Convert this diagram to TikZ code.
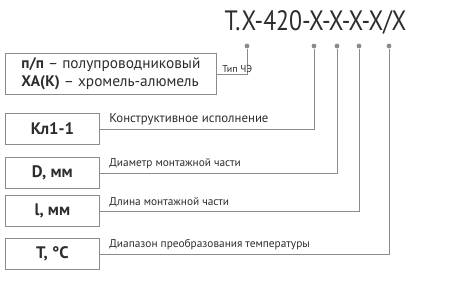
\documentclass[tikz,border=0pt]{standalone}
\usepackage{fontspec}
\setmainfont{PT Sans}
\newfontfamily\codefont[FakeStretch=0.85]{PT Sans}
\usepackage{tikz}
\usetikzlibrary{positioning}
\definecolor{grisLigne}{RGB}{140,140,140}
\definecolor{grisTexte}{RGB}{45,45,45}

\begin{document}
\begin{tikzpicture}[x=0.75pt,y=-0.75pt,
  boite/.style={rectangle,draw=grisLigne,line width=0.6pt,minimum height=23.5pt,
                inner xsep=12pt,text=grisTexte,align=left,anchor=north west},
  point/.style={circle,fill=grisLigne,inner sep=0pt,minimum size=3.6pt},
  lien/.style={draw=grisLigne,line width=0.6pt},
  legende/.style={font=\fontsize{8.5}{10}\selectfont,text=grisTexte,inner sep=1pt}]

  \useasboundingbox (0,0) rectangle (450,290);

  % code
  \node[font=\codefont\fontsize{21}{24}\selectfont,text=grisTexte] (code) at (315.5,22) {Т.Х-420-Х-Х-Х-Х/Х};

  \node[point] (p1) at (247,46) {};
  \node[point] (p2) at (314,46) {};
  \node[point] (p3) at (337,46) {};
  \node[point] (p4) at (359,46) {};
  \node[point] (p5) at (389,46) {};

  % boites
  \node[boite,minimum width=148.5pt,minimum height=26pt,font=\fontsize{11.5}{13.5}\selectfont]
    (type) at (5,53) {\textbf{п/п} – полупроводниковый\\\textbf{ХА(К)} – хромель-алюмель};
  \node[boite,minimum width=70.5pt,font=\fontsize{12.5}{14}\bfseries] (konstr) at (5,113) {Кл1-1};
  \node[boite,minimum width=70.5pt,font=\fontsize{12.5}{14}\bfseries] (diam)   at (5,157) {D, мм};
  \node[boite,minimum width=70.5pt,font=\fontsize{12.5}{14}\bfseries] (dlina)  at (5,195) {l, мм};
  \node[boite,minimum width=70.5pt,font=\fontsize{12.5}{14}\bfseries] (temp)   at (5,238) {T, °C};

  % liens
  \draw[lien] (type.east)   -| (p1);
  \draw[lien] (konstr.east) -| (p2);
  \draw[lien] (diam.east)   -| (p3);
  \draw[lien] (dlina.east)  -| (p4);
  \draw[lien] (temp.east)   -| (p5);

  \node[legende,font=\fontsize{7.5}{9}\selectfont,above right=0pt and 3pt of type.east] (ltype) {Тип ЧЭ};
  \node[legende,font=\fontsize{9.6}{11}\selectfont,above right=2pt and 6pt of konstr.east] (lkonstr) {Конструктивное исполнение};
  \node[legende,above right=2pt and 6pt of diam.east]   (ldiam)   {Диаметр монтажной части};
  \node[legende,above right=2pt and 6pt of dlina.east]  (ldlina)  {Длина монтажной части};
  \node[legende,above right=2pt and 6pt of temp.east]   (ltemp)   {Диапазон преобразования температуры};
\end{tikzpicture}
\end{document}
